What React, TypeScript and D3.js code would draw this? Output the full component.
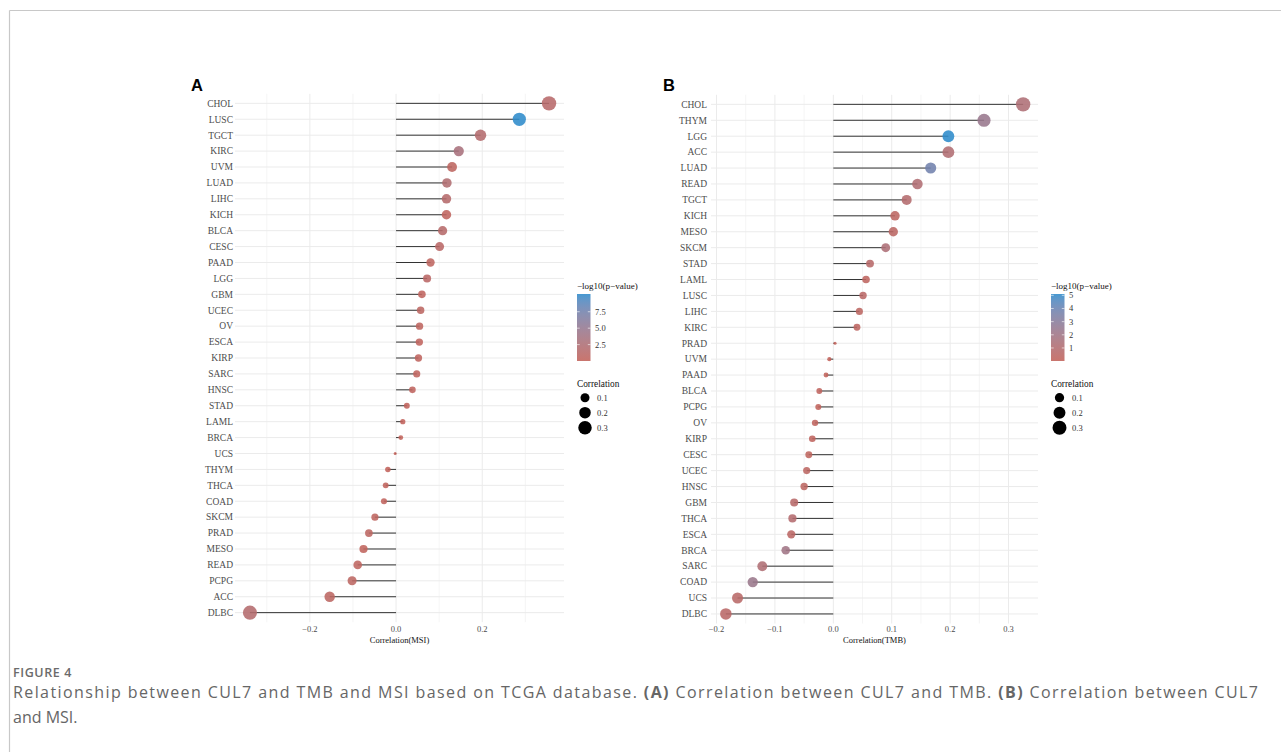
import React from "react";
import * as d3 from "d3";

// ---------- Data ----------
const msiCancers = ["CHOL","LUSC","TGCT","KIRC","UVM","LUAD","LIHC","KICH","BLCA","CESC","PAAD","LGG","GBM","UCEC","OV","ESCA","KIRP","SARC","HNSC","STAD","LAML","BRCA","UCS","THYM","THCA","COAD","SKCM","PRAD","MESO","READ","PCPG","ACC","DLBC"];
const msiCor = [0.355,0.286,0.196,0.1455,0.130,0.118,0.117,0.117,0.108,0.101,0.080,0.072,0.060,0.057,0.0545,0.054,0.052,0.048,0.038,0.025,0.0156,0.011,-0.002,-0.019,-0.024,-0.028,-0.049,-0.063,-0.0755,-0.089,-0.102,-0.154,-0.339];
const msiLogP = [1.47,10.2,1.8,3.1,0.6,2.14,1.6,0.46,1.5,1.1,0.54,1.0,0.35,0.74,0.54,0.33,0.42,0.35,0.41,0.21,0.07,0.14,0.005,0.08,0.23,0.26,0.54,0.79,0.31,0.59,0.76,0.76,1.73];
const msiTicks = [-0.2, 0, 0.2];
const msiMinor = [-0.3, -0.1, 0.1, 0.3];
const msiColorTicks = [2.5, 5.0, 7.5];

const tmbCancers = ["CHOL","THYM","LGG","ACC","LUAD","READ","TGCT","KICH","MESO","SKCM","STAD","LAML","LUSC","LIHC","KIRC","PRAD","UVM","PAAD","BLCA","PCPG","OV","KIRP","CESC","UCEC","HNSC","GBM","THCA","ESCA","BRCA","SARC","COAD","UCS","DLBC"];
const tmbCor = [0.325,0.258,0.197,0.197,0.1667,0.144,0.1256,0.1056,0.1027,0.0897,0.0628,0.056,0.0509,0.0446,0.0405,0.003,-0.0068,-0.0125,-0.024,-0.0257,-0.0313,-0.036,-0.042,-0.0456,-0.050,-0.067,-0.070,-0.072,-0.0815,-0.1216,-0.138,-0.164,-0.184];
const tmbLogP = [1.27,2.35,5.1,1.1,3.8,1.15,0.88,0.4,0.44,1.28,0.72,0.3,0.59,0.4,0.34,0.02,0.01,0.06,0.2,0.12,0.2,0.2,0.25,0.4,0.4,0.72,0.92,0.48,2.0,1.2,2.25,0.65,0.55];
const tmbTicks = [-0.2, -0.1, 0, 0.1, 0.2, 0.3];
const tmbMinor = [-0.15, -0.05, 0.05, 0.15, 0.25];
const tmbColorTicks = [1, 2, 3, 4, 5];

const sizeLegend = [0.1, 0.2, 0.3];

const LOW = "#C2625A";
const HIGH = "#2E8BCB";
const SERIF = "'Liberation Serif', 'Times New Roman', 'DejaVu Serif', serif";

function fmt(v: number, digits: number) {
  const s = v.toFixed(digits);
  return s.replace("-", "\u2212");
}

type PanelProps = {
  letter: string;
  letterX: number;
  cancers: string[];
  cor: number[];
  logp: number[];
  ticks: number[];
  minor: number[];
  colorTicks: number[];
  colorDigits: number;
  xRange: [number, number];
  yRange: [number, number];
  labelX: number;
  axisTitle: string;
  legendX: number;
  legendLabelX: number;
  circleX: number;
  circleLabelX: number;
};

function Panel(p: PanelProps) {
  const ext = d3.extent(p.cor) as [number, number];
  const pad = (ext[1] - ext[0]) * 0.05;
  const x = d3.scaleLinear().domain([ext[0] - pad, ext[1] + pad]).range(p.xRange);
  const y = d3.scalePoint<string>().domain(p.cancers).range(p.yRange).padding(0.6);
  const top = p.yRange[0];
  const bottom = p.yRange[1];

  const absVals = p.cor.map(Math.abs);
  const aMin = d3.min(absVals)!;
  const aMax = d3.max(absVals)!;
  const rMin = 1.5, rMax = 7.2;
  const r = (v: number) => {
    const t = Math.max(0, (Math.abs(v) - aMin) / (aMax - aMin));
    return rMin + (rMax - rMin) * Math.sqrt(t);
  };
  const pExt = d3.extent(p.logp) as [number, number];
  const color = d3.scaleLinear<string>().domain(pExt).range([LOW, HIGH]).interpolate(d3.interpolateLab);

  const barTop = 294, barBottom = 361;
  const cy = d3.scaleLinear().domain(pExt).range([barBottom, barTop]);
  const gradId = "grad" + p.letter;
  const zero = x(0);

  return (
    <g>
      <defs>
        <linearGradient id={gradId} x1="0" y1="1" x2="0" y2="0">
          {d3.range(0, 1.0001, 0.1).map((t, i) => (
            <stop key={i} offset={t} stopColor={color(pExt[0] + t * (pExt[1] - pExt[0]))} />
          ))}
        </linearGradient>
      </defs>
      {p.minor.map((v) => (
        <line key={"mn" + v} x1={x(v)} x2={x(v)} y1={top} y2={bottom} stroke="#F0F0F0" strokeWidth={0.7} />
      ))}
      {p.ticks.map((v) => (
        <line key={"mj" + v} x1={x(v)} x2={x(v)} y1={top} y2={bottom} stroke="#EBEBEB" strokeWidth={1} />
      ))}
      {p.cancers.map((c) => (
        <line key={"hg" + c} x1={p.xRange[0]} x2={p.xRange[1]} y1={y(c)} y2={y(c)} stroke="#EBEBEB" strokeWidth={1} />
      ))}
      {p.cancers.map((c, i) => (
        <line key={"sg" + c} x1={zero} x2={x(p.cor[i])} y1={y(c)} y2={y(c)} stroke="#333333" strokeWidth={1} />
      ))}
      {p.cancers.map((c, i) => (
        <circle key={"pt" + c} cx={x(p.cor[i])} cy={y(c)} r={r(p.cor[i])} fill={color(p.logp[i])} fillOpacity={0.88} />
      ))}
      {p.cancers.map((c) => (
        <text key={"yl" + c} x={p.labelX} y={y(c)} dy="0.35em" textAnchor="end" fontFamily={SERIF} fontSize={9.5} fill="#4D4D4D">
          {c}
        </text>
      ))}
      {p.ticks.map((v) => (
        <text key={"xt" + v} x={x(v)} y={632} textAnchor="middle" fontFamily={SERIF} fontSize={8.5} fill="#4D4D4D">
          {fmt(v, 1)}
        </text>
      ))}
      <text x={(p.xRange[0] + p.xRange[1]) / 2} y={642.5} textAnchor="middle" fontFamily={SERIF} fontSize={8.5} fill="#111">
        {p.axisTitle}
      </text>
      <text x={p.letterX} y={91} fontFamily="'Liberation Sans', Arial, sans-serif" fontWeight="bold" fontSize={16.5} fill="#000">
        {p.letter}
      </text>
      <text x={p.legendX} y={289} fontFamily={SERIF} fontSize={9} fill="#111">
        {"\u2212log10(p\u2212value)"}
      </text>
      <rect x={p.legendX} y={barTop} width={13.5} height={barBottom - barTop} fill={`url(#${gradId})`} fillOpacity={0.88} />
      {p.colorTicks.map((v) => (
        <g key={"ct" + v}>
          <line x1={p.legendX} x2={p.legendX + 2.7} y1={cy(v)} y2={cy(v)} stroke="#fff" strokeWidth={0.6} />
          <line x1={p.legendX + 10.8} x2={p.legendX + 13.5} y1={cy(v)} y2={cy(v)} stroke="#fff" strokeWidth={0.6} />
          <text x={p.legendLabelX} y={cy(v)} dy="0.35em" fontFamily={SERIF} fontSize={8.5} fill="#333">
            {v.toFixed(p.colorDigits)}
          </text>
        </g>
      ))}
      <text x={p.legendX} y={386.5} fontFamily={SERIF} fontSize={9.3} fill="#111">
        Correlation
      </text>
      {sizeLegend.map((v, i) => {
        const yy = 397.7 + i * 15;
        return (
          <g key={"sl" + v}>
            <circle cx={p.circleX} cy={yy} r={r(v)} fill="#000" />
            <text x={p.circleLabelX} y={yy} dy="0.35em" fontFamily={SERIF} fontSize={8.5} fill="#333">
              {v.toFixed(1)}
            </text>
          </g>
        );
      })}
    </g>
  );
}

export default function App() {
  const W = 1281, H = 752;
  const cap = "'Open Sans', 'Noto Sans', sans-serif";
  return (
    <svg width={W} height={H} style={{ position: "absolute", left: 0, top: 0, background: "#fff" }}>
      <rect width={W} height={H} fill="#fff" />
      <line x1={9.5} x2={W} y1={10.5} y2={10.5} stroke="#C8C8C8" strokeWidth={1.2} />
      <line x1={9.5} x2={9.5} y1={10.5} y2={H} stroke="#C8C8C8" strokeWidth={1.2} />
      <Panel
        letter="A"
        letterX={191}
        cancers={msiCancers}
        cor={msiCor}
        logp={msiLogP}
        ticks={msiTicks}
        minor={msiMinor}
        colorTicks={msiColorTicks}
        colorDigits={1}
        xRange={[235, 564]}
        yRange={[93.8, 622.2]}
        labelX={233}
        axisTitle="Correlation(MSI)"
        legendX={577}
        legendLabelX={595}
        circleX={585}
        circleLabelX={597}
      />
      <Panel
        letter="B"
        letterX={663}
        cancers={tmbCancers}
        cor={tmbCor}
        logp={tmbLogP}
        ticks={tmbTicks}
        minor={tmbMinor}
        colorTicks={tmbColorTicks}
        colorDigits={0}
        xRange={[711, 1038]}
        yRange={[94.8, 623.5]}
        labelX={707}
        axisTitle="Correlation(TMB)"
        legendX={1051}
        legendLabelX={1069}
        circleX={1059.5}
        circleLabelX={1072}
      />
      <text x={13} y={677} fontFamily={cap} fontWeight={600} fontSize={12.5} letterSpacing={0.6} fill="#6B6B6B">
        FIGURE 4
      </text>
      <text x={13} y={697.5} fontFamily={cap} fontSize={16} fill="#666" textLength={1245} lengthAdjust="spacing">
        <tspan>Relationship between CUL7 and TMB and MSI based on TCGA database. </tspan>
        <tspan fontWeight="bold">(A)</tspan>
        <tspan> Correlation between CUL7 and TMB. </tspan>
        <tspan fontWeight="bold">(B)</tspan>
        <tspan> Correlation between CUL7</tspan>
      </text>
      <text x={13} y={722.5} fontFamily={cap} fontSize={16} fill="#666">
        and MSI.
      </text>
    </svg>
  );
}
